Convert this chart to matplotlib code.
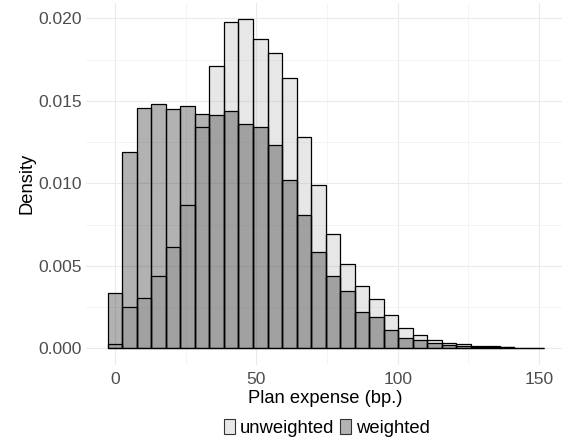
import numpy as np
import matplotlib
matplotlib.use("Agg")
import matplotlib.pyplot as plt
from matplotlib.patches import Patch

plt.rcParams['font.family'] = ['Liberation Sans', 'DejaVu Sans']

# histogram bins: 30 bins centred from the min to the max expense
expense_min, expense_max = 0.0, 149.0
n_bins = 30

unweighted = [0.00024, 0.00250, 0.00303, 0.00436, 0.00614, 0.00870, 0.01339, 0.01711,
              0.01977, 0.01996, 0.01876, 0.01788, 0.01640, 0.01281, 0.00990, 0.00691,
              0.00513, 0.00376, 0.00297, 0.00200, 0.00123, 0.00079, 0.00052, 0.00032,
              0.00024, 0.00016, 0.00012, 0.00010, 0.00005, 0.00004]
weighted = [0.00333, 0.01192, 0.01455, 0.01483, 0.01448, 0.01467, 0.01422, 0.01412,
            0.01438, 0.01361, 0.01339, 0.01230, 0.01018, 0.00806, 0.00582, 0.00440,
            0.00345, 0.00218, 0.00188, 0.00111, 0.00062, 0.00048, 0.00032, 0.00020,
            0.00015, 0.00010, 0.00008, 0.00006, 0.00003, 0.00002]

x_ticks = [0, 50, 100, 150]
y_ticks = [0.000, 0.005, 0.010, 0.015, 0.020]

centers = np.linspace(expense_min, expense_max, n_bins)
width = (expense_max - expense_min) / (n_bins - 1)

fig = plt.figure(figsize=(5.62, 4.40), dpi=100)
ax = fig.add_axes([0.1529, 0.1709, 0.853, 0.8234])

ax.bar(centers, unweighted, width=width, color=(178/255,) * 3, alpha=0.3,
       edgecolor='none', zorder=2)
ax.bar(centers, unweighted, width=width, fill=False, edgecolor='black',
       linewidth=0.9, zorder=3)
ax.bar(centers, weighted, width=width, color='black', alpha=0.3,
       edgecolor='none', zorder=4)
ax.bar(centers, weighted, width=width, fill=False, edgecolor='black',
       linewidth=0.9, zorder=5)

lo = expense_min - width / 2
hi = expense_max + width / 2
pad = 0.05 * (hi - lo)
ax.set_xlim(lo - pad, hi + pad)
ymax = max(max(unweighted), max(weighted))
ax.set_ylim(-0.05 * ymax, 1.05 * ymax)

ax.set_xticks(x_ticks)
ax.set_xticks([25, 75, 125], minor=True)
ax.set_yticks(y_ticks)
ax.set_yticks([0.0025, 0.0075, 0.0125, 0.0175], minor=True)
ax.set_yticklabels([f"{v:.3f}" for v in y_ticks])

ax.grid(True, which='major', color='#ebebeb', linewidth=0.8, zorder=0)
ax.grid(True, which='minor', color='#f2f2f2', linewidth=0.6, zorder=0)
ax.set_axisbelow(True)
for s in ax.spines.values():
    s.set_visible(False)
ax.tick_params(which='both', length=0)
ax.tick_params(axis='x', pad=5, labelsize=12.6, labelcolor='#4d4d4d')
ax.tick_params(axis='y', pad=3, labelsize=12.6, labelcolor='#4d4d4d')

ax.set_xlabel("Plan expense (bp.)", fontsize=13.2, labelpad=2)
ax.set_ylabel("Density", fontsize=13.2, labelpad=2)

handles = [Patch(facecolor='#e8e8e8', edgecolor='#333333', linewidth=0.8),
           Patch(facecolor='#b3b3b3', edgecolor='#333333', linewidth=0.8)]
fig.legend(handles, ["unweighted", "weighted"], loc='center',
           bbox_to_anchor=(327 / 562, 1 - 427.7 / 440), ncol=2, frameon=False,
           fontsize=13.3, handlelength=0.6, handleheight=0.92,
           handletextpad=0.25, columnspacing=0.3, borderpad=0)

fig.savefig("out.png", dpi=100)
